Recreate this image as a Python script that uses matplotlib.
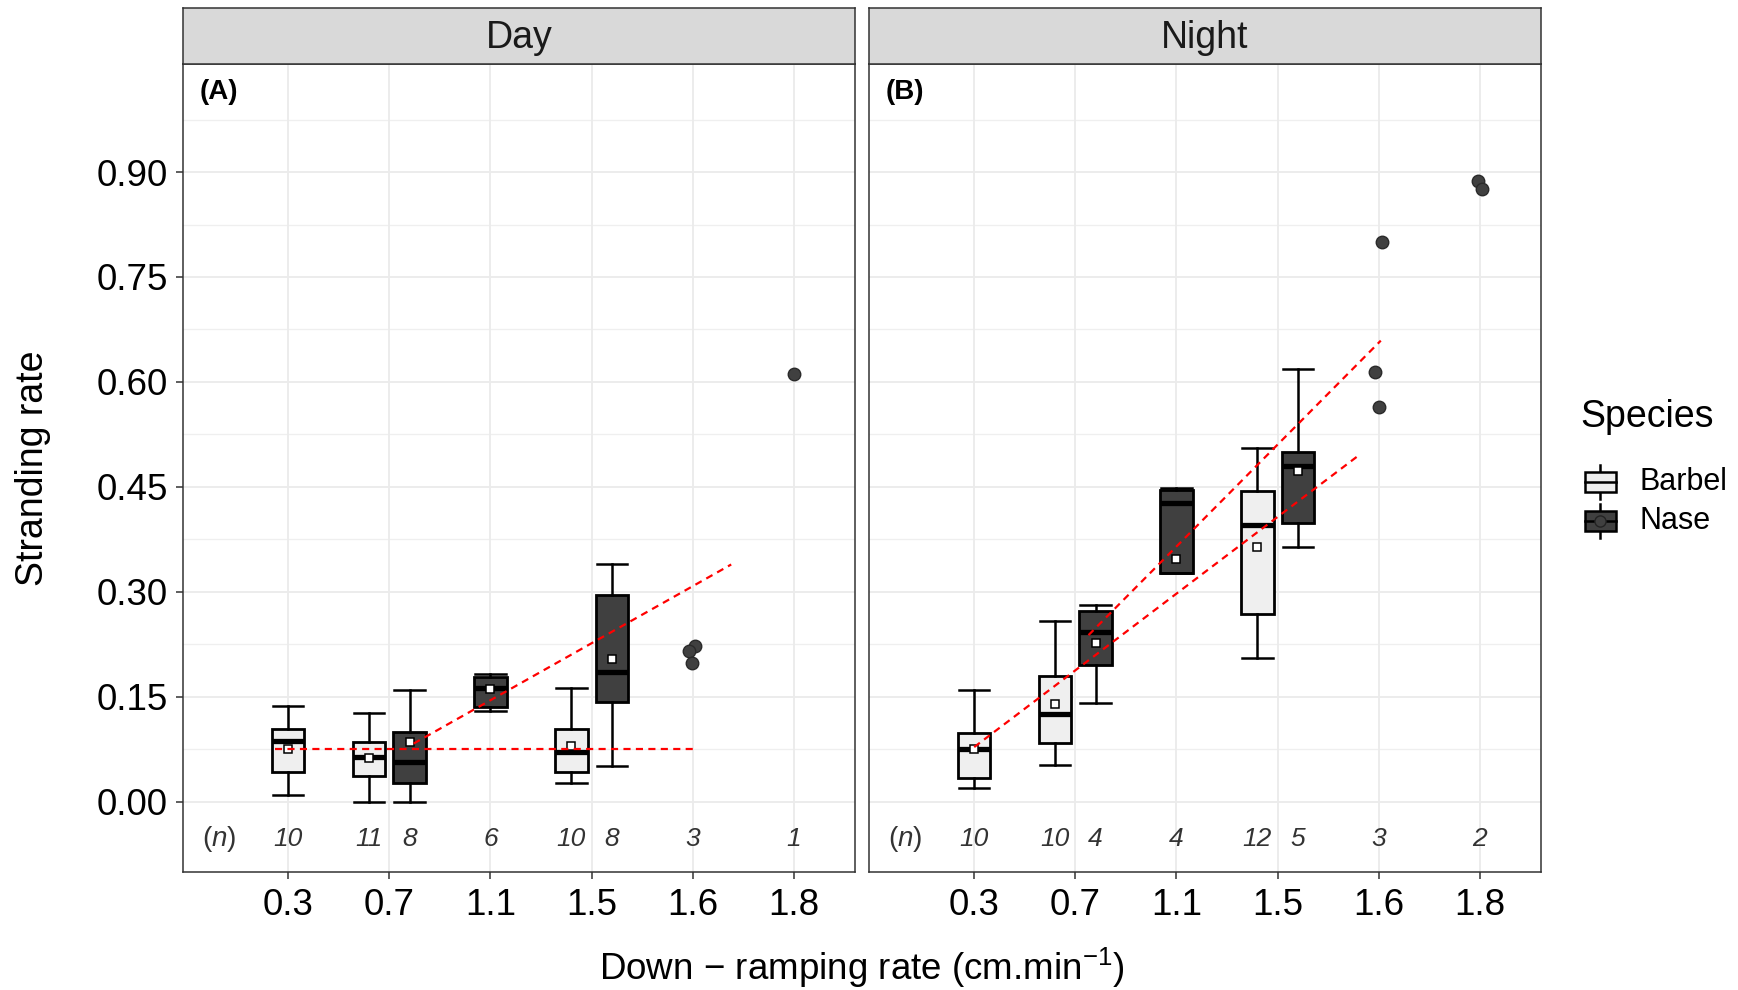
import matplotlib
matplotlib.use("Agg")
import matplotlib.pyplot as plt
from matplotlib.patches import Rectangle
import numpy as np

plt.rcParams['font.family'] = ['Liberation Sans', 'DejaVu Sans']
plt.rcParams['mathtext.fontset'] = 'custom'
plt.rcParams['mathtext.rm'] = 'Liberation Sans'
plt.rcParams['mathtext.it'] = 'Liberation Sans:italic'
plt.rcParams['mathtext.bf'] = 'Liberation Sans:bold'

# ---------------- data ----------------
rates = ['0.3', '0.7', '1.1', '1.5', '1.6', '1.8']
panels = ['Day', 'Night']
panel_tags = ['(A)', '(B)']
species = ['Barbel', 'Nase']

# Day - Barbel
day_barbel_rate = ['0.3', '0.7', '1.5']
day_barbel_whislo = [0.010, 0.000, 0.026]
day_barbel_q1 = [0.043, 0.036, 0.042]
day_barbel_med = [0.087, 0.0635, 0.071]
day_barbel_q3 = [0.104, 0.085, 0.104]
day_barbel_whishi = [0.137, 0.126, 0.163]
day_barbel_mean = [0.0755, 0.0626, 0.079]
day_barbel_n = [10, 11, 10]

# Day - Nase
day_nase_rate = ['0.7', '1.1', '1.5']
day_nase_whislo = [0.000, 0.1295, 0.051]
day_nase_q1 = [0.027, 0.136, 0.142]
day_nase_med = [0.057, 0.162, 0.186]
day_nase_q3 = [0.0994, 0.178, 0.296]
day_nase_whishi = [0.160, 0.183, 0.340]
day_nase_mean = [0.0846, 0.1615, 0.2045]
day_nase_n = [8, 6, 8]

# Night - Barbel
night_barbel_rate = ['0.3', '0.7', '1.5']
night_barbel_whislo = [0.020, 0.052, 0.205]
night_barbel_q1 = [0.034, 0.084, 0.268]
night_barbel_med = [0.0748, 0.125, 0.395]
night_barbel_q3 = [0.0986, 0.179, 0.444]
night_barbel_whishi = [0.160, 0.2576, 0.506]
night_barbel_mean = [0.075, 0.1395, 0.364]
night_barbel_n = [10, 10, 12]

# Night - Nase
night_nase_rate = ['0.7', '1.1', '1.5']
night_nase_whislo = [0.1414, 0.327, 0.3633]
night_nase_q1 = [0.1957, 0.327, 0.399]
night_nase_med = [0.242, 0.427, 0.480]
night_nase_q3 = [0.272, 0.445, 0.4995]
night_nase_whishi = [0.281, 0.449, 0.6186]
night_nase_mean = [0.2267, 0.3467, 0.472]
night_nase_n = [4, 4, 5]

# Raw points (Nase) where n is small
day_pt_rate = ['1.6', '1.6', '1.6', '1.8']
day_pt_val = [0.2226, 0.2155, 0.198, 0.612]
day_pt_jit = [0.025, -0.042, -0.01, 0.0]
day_pt_n = {'1.6': 3, '1.8': 1}

night_pt_rate = ['1.6', '1.6', '1.6', '1.8', '1.8']
night_pt_val = [0.800, 0.6143, 0.5643, 0.8867, 0.8762]
night_pt_jit = [0.033, -0.033, 0.0, -0.016, 0.016]
night_pt_n = {'1.6': 3, '1.8': 2}

# Fitted trend lines (x in category-position units)
day_barbel_fit_x = [0.87, 5.0]
day_barbel_fit_y = [0.0755, 0.0755]
day_nase_fit_x = [2.24, 5.38]
day_nase_fit_y = [0.083, 0.339]
night_barbel_fit_x = [1.0, 4.82]
night_barbel_fit_y = [0.078, 0.497]
night_nase_fit_x = [2.13, 5.02]
night_nase_fit_y = [0.238, 0.659]

y_breaks = [0.0, 0.15, 0.30, 0.45, 0.60, 0.75, 0.90]
y_minor = [0.075, 0.225, 0.375, 0.525, 0.675, 0.825, 0.975]

# ---------------- style ----------------
fill = {'Barbel': '#EFEFEF', 'Nase': '#404040'}
W = 1738.0
H = 990.0
fig = plt.figure(figsize=(W / 100, H / 100), dpi=100)

ax_left = [183 / W, 869 / W]
ax_w = (854.6 - 183) / W
ax_b = 1 - 872.3 / H
ax_h = (872.3 - 64.3) / H
strip_h = (64.3 - 7.8) / H

data = {
    'Day': {
        'Barbel': (day_barbel_rate, day_barbel_whislo, day_barbel_q1, day_barbel_med,
                   day_barbel_q3, day_barbel_whishi, day_barbel_mean, day_barbel_n),
        'Nase': (day_nase_rate, day_nase_whislo, day_nase_q1, day_nase_med,
                 day_nase_q3, day_nase_whishi, day_nase_mean, day_nase_n),
        'pts': (day_pt_rate, day_pt_val, day_pt_jit, day_pt_n),
        'fits': [(day_barbel_fit_x, day_barbel_fit_y), (day_nase_fit_x, day_nase_fit_y)],
    },
    'Night': {
        'Barbel': (night_barbel_rate, night_barbel_whislo, night_barbel_q1, night_barbel_med,
                   night_barbel_q3, night_barbel_whishi, night_barbel_mean, night_barbel_n),
        'Nase': (night_nase_rate, night_nase_whislo, night_nase_q1, night_nase_med,
                 night_nase_q3, night_nase_whishi, night_nase_mean, night_nase_n),
        'pts': (night_pt_rate, night_pt_val, night_pt_jit, night_pt_n),
        'fits': [(night_barbel_fit_x, night_barbel_fit_y), (night_nase_fit_x, night_nase_fit_y)],
    },
}

dodge = 0.2
box_w = 0.32
TICK_FS = 26.5
N_FS = 19

for i, pname in enumerate(panels):
    ax = fig.add_axes([ax_left[i], ax_b, ax_w, ax_h])
    d = data[pname]
    ax.set_xlim(-0.04, 6.6)
    ax.set_ylim(-0.101, 1.054)
    ax.set_axisbelow(True)
    for yv in y_minor:
        ax.axhline(yv, color='#EFEFEF', lw=0.9, zorder=0)
    for yv in y_breaks:
        ax.axhline(yv, color='#EBEBEB', lw=1.3, zorder=0)
    for k in range(len(rates)):
        ax.axvline(k + 1, color='#EBEBEB', lw=1.3, zorder=0)

    present = {r: [s for s in species if r in d[s][0]] for r in rates}

    def pos_of(r, s):
        base = rates.index(r) + 1
        if len(present[r]) == 2:
            return base - dodge if s == 'Barbel' else base + dodge
        return base

    for s in species:
        rr, lo, q1, med, q3, hi, mn, nn = d[s]
        stats = []
        pos = []
        for j, r in enumerate(rr):
            stats.append(dict(whislo=lo[j], q1=q1[j], med=med[j], q3=q3[j],
                              whishi=hi[j], mean=mn[j], fliers=[]))
            pos.append(pos_of(r, s))
        ax.bxp(stats, positions=pos, widths=box_w, patch_artist=True,
               showmeans=True, showfliers=False, capwidths=0.30,
               boxprops=dict(facecolor=fill[s], edgecolor='black', linewidth=2.0),
               whiskerprops=dict(color='black', linewidth=1.8),
               capprops=dict(color='black', linewidth=1.8),
               medianprops=dict(color='black', linewidth=3.8, solid_capstyle='butt'),
               meanprops=dict(marker='s', markerfacecolor='white', markeredgecolor='black',
                              markersize=5.8, markeredgewidth=1.1),
               manage_ticks=False, zorder=3)
        for j, r in enumerate(rr):
            ax.text(pos[j], -0.054, str(nn[j]), ha='center', va='center', fontsize=N_FS,
                    style='italic', color='#333333')

    prate, pval, pjit, pn = d['pts']
    px = [rates.index(r) + 1 + jt for r, jt in zip(prate, pjit)]
    ax.plot(px, pval, linestyle='none', marker='o', markersize=9,
            markerfacecolor='#404040', markeredgecolor='#2A2A2A', markeredgewidth=1.0,
            zorder=4)
    for r, n in pn.items():
        ax.text(rates.index(r) + 1, -0.054, str(n), ha='center', va='center', fontsize=N_FS,
                style='italic', color='#333333')

    for fx, fy in d['fits']:
        ax.plot(fx, fy, color='red', lw=1.6, linestyle=(0, (3.2, 2.4)), zorder=5)

    ax.text(0.32, -0.054, r'$(n)$', ha='center', va='center', fontsize=20, color='#333333')
    ax.text(0.025, 0.966, panel_tags[i], transform=ax.transAxes, ha='left', va='center',
            fontsize=20, fontweight='bold', color='black')

    ax.set_xticks(range(1, len(rates) + 1))
    ax.set_xticklabels(rates, fontsize=TICK_FS)
    ax.set_yticks(y_breaks)
    ax.tick_params(axis='both', direction='out', length=5, width=1.1, color='#333333',
                   labelcolor='black', pad=6)
    if i == 0:
        ax.set_yticklabels(['%.2f' % v for v in y_breaks], fontsize=TICK_FS)
    else:
        ax.set_yticklabels([])
        ax.tick_params(axis='y', length=0)
    for sp in ax.spines.values():
        sp.set_color('#333333')
        sp.set_linewidth(1.1)

    sax = fig.add_axes([ax_left[i], ax_b + ax_h, ax_w, strip_h])
    sax.set_facecolor('#D9D9D9')
    sax.set_xticks([])
    sax.set_yticks([])
    for sp in sax.spines.values():
        sp.set_color('#333333')
        sp.set_linewidth(1.1)
    sax.text(0.5, 0.47, pname, ha='center', va='center', fontsize=27, color='#1A1A1A',
             transform=sax.transAxes)

# axis titles
fig.text(33 / W, 1 - ((64.3 + 872.3) / 2) / H, 'Stranding rate', rotation=90,
         ha='center', va='center', fontsize=27)
fig.text(862 / W, 1 - 968 / H, 'Down \u2212 ramping rate (cm.min$^{-1}$)',
         ha='center', va='center', fontsize=26.5)

# legend (drawn in pixel coordinates)
lax = fig.add_axes([0, 0, 1, 1], facecolor='none')
lax.set_xlim(0, W)
lax.set_ylim(H, 0)
lax.axis('off')
lax.text(1580, 417, 'Species', ha='left', va='center', fontsize=27)
key_cy = [482, 521]
for s, cy in zip(species, key_cy):
    lax.plot([1600, 1600], [cy - 17, cy + 17], color='black', lw=1.8, zorder=1)
    lax.add_patch(Rectangle((1585, cy - 10), 31, 20, facecolor=fill[s],
                            edgecolor='black', lw=1.8, zorder=2))
    lax.plot([1585, 1616], [cy, cy], color='black', lw=1.8, zorder=3)
    if s == 'Nase':
        lax.plot([1600], [cy], marker='o', markersize=8, markerfacecolor='#404040',
                 markeredgecolor='#222222', zorder=4)
    lax.text(1640, cy, s, ha='left', va='center', fontsize=22)

fig.savefig('out.png', dpi=100)
